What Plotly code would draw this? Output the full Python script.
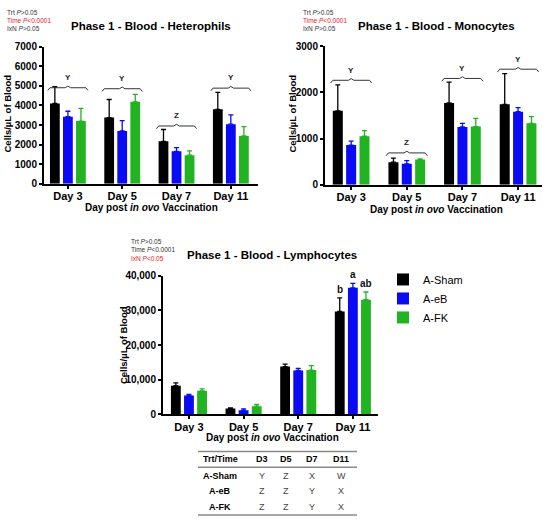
import plotly.graph_objects as go

# Data
days = ["Day 3", "Day 5", "Day 7", "Day 11"]
groups = ["A-Sham", "A-eB", "A-FK"]
colors = ["#000000", "#0a0af5", "#22b322"]

het_sham = [4100, 3380, 2170, 3800]
het_eb = [3420, 2700, 1660, 3040]
het_fk = [3200, 4180, 1460, 2440]
het_sham_err = [850, 920, 600, 860]
het_eb_err = [280, 520, 190, 480]
het_fk_err = [650, 380, 220, 480]
het_brace = [4900, 4850, 2950, 4880]
het_letters = ["Y", "Y", "Z", "Y"]

mono_sham = [1600, 490, 1770, 1740]
mono_eb = [860, 455, 1250, 1580]
mono_fk = [1050, 550, 1260, 1330]
mono_sham_err = [560, 85, 450, 665]
mono_eb_err = [85, 70, 80, 90]
mono_fk_err = [120, 10, 175, 145]
mono_brace = [2260, 690, 2300, 2500]
mono_letters = ["Y", "Z", "Y", "Y"]

lym_sham = [8300, 1700, 13800, 29700]
lym_eb = [5500, 1200, 12700, 36500]
lym_fk = [6800, 2400, 12800, 33100]
lym_sham_err = [800, 200, 700, 3900]
lym_eb_err = [300, 400, 600, 1300]
lym_fk_err = [600, 500, 1300, 2200]
lym_d11_letters = ["b", "a", "ab"]

table_cols = ["Trt/Time", "D3", "D5", "D7", "D11"]
table_rows = ["A-Sham", "A-eB", "A-FK"]
table_vals = [["Y", "Z", "X", "W"], ["Z", "Z", "Y", "X"], ["Z", "Z", "Y", "X"]]

W, H = 550, 526
FONT = "Liberation Sans, Arial, sans-serif"


def px(x):
    return x / W


def py(y):
    return 1 - y / H


def note(x, y, text, size, color="black", xanchor="center", angle=0):
    fig.add_annotation(x=px(x), y=py(y), xref="paper", yref="paper", text=text,
                       showarrow=False, xanchor=xanchor, yanchor="middle", textangle=angle,
                       font=dict(family=FONT, size=size, color=color))


xpos = list(range(len(days)))
BARGAP = 0.28
SLOT = (1 - BARGAP) / 3

fig = go.Figure()

panels = [
    ("x", "y", [het_sham, het_eb, het_fk], [het_sham_err, het_eb_err, het_fk_err], False),
    ("x2", "y2", [mono_sham, mono_eb, mono_fk], [mono_sham_err, mono_eb_err, mono_fk_err], False),
    ("x3", "y3", [lym_sham, lym_eb, lym_fk], [lym_sham_err, lym_eb_err, lym_fk_err], True),
]

for xa, ya, means, errs, show in panels:
    for g, m, e, c in zip(groups, means, errs, colors):
        fig.add_trace(go.Bar(
            x=xpos, y=m, name=g, marker=dict(color=c, line=dict(width=0)),
            error_y=dict(type="data", symmetric=False, array=e, arrayminus=[0] * len(e),
                         color=c, thickness=1.3, width=2.5),
            xaxis=xa, yaxis=ya, showlegend=show, legendgroup=g,
        ))


# braces with letters (top panels)
def add_braces(xa, ya, levels, letters, depth):
    h = (1 - BARGAP) / 2 + 0.01
    for i, (lv, lt) in enumerate(zip(levels, letters)):
        xs = [i - h, i - h + 0.04, i - 0.05, i, i + 0.05, i + h - 0.04, i + h]
        ys = [lv - depth, lv, lv, lv + depth * 0.6, lv, lv, lv - depth]
        fig.add_trace(go.Scatter(x=xs, y=ys, mode="lines", line=dict(color="#333333", width=1),
                                 xaxis=xa, yaxis=ya, showlegend=False, hoverinfo="skip"))
        fig.add_annotation(x=i, y=lv + depth * 0.6, xref=xa, yref=ya, text="<b>%s</b>" % lt,
                           showarrow=False, xanchor="center", yanchor="bottom", yshift=2,
                           font=dict(family=FONT, size=8, color="#222"))


add_braces("x", "y", het_brace, het_letters, 140)
add_braces("x2", "y2", mono_brace, mono_letters, 60)

# significance letters on Day 11 lymphocytes
for k, (m, e, lt) in enumerate(zip([lym_sham, lym_eb, lym_fk], [lym_sham_err, lym_eb_err, lym_fk_err],
                                   lym_d11_letters)):
    fig.add_annotation(x=3 + (k - 1) * SLOT, y=m[3] + e[3], xref="x3", yref="y3",
                       text="<b>%s</b>" % lt, showarrow=False, xanchor="center", yanchor="bottom",
                       yshift=1, font=dict(family=FONT, size=10, color="#111"))

axis_common = dict(showline=True, linecolor="black", linewidth=2, ticks="outside", ticklen=3,
                   tickwidth=1.5, tickcolor="black", showgrid=False, zeroline=False,
                   tickfont=dict(family=FONT, size=10, color="black", weight="bold"))
xaxis_common = dict(axis_common, tickvals=xpos, ticktext=days, ticklabelstandoff=-2,
                    tickfont=dict(family=FONT, size=11, color="black", weight="bold"))

fig.update_layout(
    width=W, height=H, margin=dict(l=0, r=0, t=0, b=0),
    paper_bgcolor="white", plot_bgcolor="white",
    barmode="group", bargap=BARGAP, bargroupgap=0.25,
    font=dict(family=FONT, color="black"),
    xaxis=dict(xaxis_common, domain=[px(44), px(258)], range=[-0.44, 3.5], anchor="y"),
    yaxis=dict(axis_common, domain=[py(182), py(41.5)], range=[0, 7000], dtick=1000, anchor="x"),
    xaxis2=dict(xaxis_common, domain=[px(325), px(542)], range=[-0.47, 3.43], anchor="y2"),
    yaxis2=dict(axis_common, domain=[py(183), py(41)], range=[0, 3000], dtick=1000, anchor="x2"),
    xaxis3=dict(xaxis_common, domain=[px(163), px(378)], range=[-0.475, 3.46], anchor="y3"),
    yaxis3=dict(axis_common, domain=[py(418), py(276)], range=[0, 40000], dtick=10000,
                tickformat=",", anchor="x3"),
    legend=dict(x=px(383), y=py(265), xanchor="left", yanchor="top", tracegroupgap=0,
                font=dict(family=FONT, size=11, color="black"), bgcolor="rgba(0,0,0,0)"),
)

# titles
note(151, 20, "<b>Phase 1 - Blood - Heterophils</b>", 11.5)
note(436, 20, "<b>Phase 1 - Blood - Monocytes</b>", 11.5)
note(272, 255, "<b>Phase 1 - Blood - Lymphocytes</b>", 11.5)

# axis titles
for x, y in [(7, 110), (292, 110), (123, 347)]:
    note(x, y, "<b>Cells/µL of Blood</b>", 9.5, angle=-90)
for x, y in [(151, 206), (436, 208), (272, 442)]:
    note(x, y, "<b>Day post <i>in ovo</i> Vaccination</b>", 10)

# stats text
stat_lines = ["Trt <i>P</i>>0.05", "Time <i>P</i><0.0001", "IxN <i>P</i>>0.05"]
stat_lines_lym = ["Trt <i>P</i>>0.05", "Time <i>P</i><0.0001", "IxN <i>P</i><0.05"]
stat_blocks = [
    (5, [7, 15, 23], stat_lines, [False, True, False]),
    (301, [7, 15, 23], stat_lines, [False, True, False]),
    (129, [241, 249, 258], stat_lines_lym, [False, False, True]),
]
for x, ys, lines, reds in stat_blocks:
    for y, s, r in zip(ys, lines, reds):
        note(x, y, s, 6.5, color="#e8202a" if r else "#333333", xanchor="left")

# table
col_x = [220, 262, 286, 312, 341]
row_y = [481, 496, 513]
for cx, c in zip(col_x, table_cols):
    note(cx, 464, "<b>%s</b>" % c, 9)
for ry, rname, vals in zip(row_y, table_rows, table_vals):
    note(col_x[0], ry, "<b>%s</b>" % rname, 9)
    for cx, v in zip(col_x[1:], vals):
        note(cx, ry, v, 9, color="#444444")
for ly in [456, 472, 521]:
    fig.add_shape(type="line", xref="paper", yref="paper", x0=px(198), x1=px(357),
                  y0=py(ly), y1=py(ly), line=dict(color="#8a8a8a", width=1.5))

# page has a default body margin; remove it so the figure fills the window
fig.write_html("out.html", config={"displayModeBar": False},
               post_script="document.body.style.margin='0';")
